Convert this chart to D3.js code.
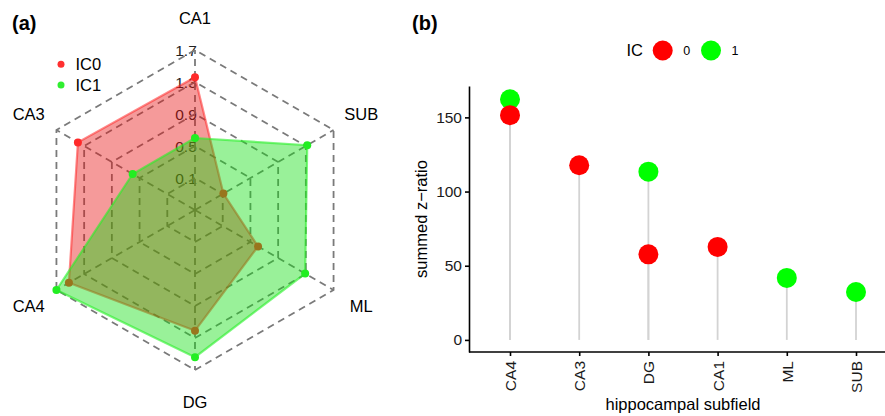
<!DOCTYPE html>
<html>
<head>
<meta charset="utf-8">
<script src="https://cdn.jsdelivr.net/npm/d3@7"></script>
<style>
    body { margin: 0; background: #fff; }
    svg  { display: block; font-family: "Liberation Sans", Arial, sans-serif; }
</style>
</head>
<body>
<svg id="chart" width="885" height="416"></svg>
<script>

// panel (a): radar values, axes counter-clockwise from the top
const radarAxes   = [ "CA1", "CA3", "CA4", "DG", "ML", "SUB" ];
const radarIC0    = [ 1.36, 1.39, 1.52, 1.21, 0.61, 0.11 ];
const radarIC1    = [ 0.60, 0.60, 1.70, 1.54, 1.29, 1.32 ];
const radarLevels = [ 0.1, 0.5, 0.9, 1.3, 1.7 ];

// panel (b): summed z-ratio per subfield
const subfields = [ "CA4", "CA3", "DG", "CA1", "ML", "SUB" ];
const sumIC0    = [ 151.5, 117.7, 57.7, 62.7, null, null ];
const sumIC1    = [ 162.2, null, 113.4, null, 41.8, 32.3 ];
const yTicks    = [ 0, 50, 100, 150 ];

const svg = d3.select( "#chart" );

// ---------------------------------------------------------------- (a)
const cx = 195, cy = 210;
const r  = d3.scaleLinear().domain( [ 0.1, 1.7 ] ).range( [ 32, 160 ] );
const angle = i => Math.PI / 2 + i * Math.PI / 3;
const pt = ( i, rad ) => [ cx + rad * Math.cos( angle( i ) ), cy - rad * Math.sin( angle( i ) ) ];

const ga = svg.append( "g" );

// axis value labels sit under the polygons
ga.selectAll( "text.lev" )
  .data( radarLevels )
  .join( "text" )
  .attr( "class", "lev" )
  .attr( "x", cx - 9 )
  .attr( "y", d => cy - r( d ) )
  .attr( "dy", "0.36em" )
  .attr( "text-anchor", "middle" )
  .attr( "font-size", 15.5 )
  .attr( "fill", "#222" )
  .text( d => d );

const grid = ga.append( "g" )
    .attr( "fill", "none" )
    .attr( "stroke", "#7a7a7a" )
    .attr( "stroke-width", 1.8 )
    .attr( "stroke-dasharray", "7,5" );

grid.selectAll( "polygon" )
    .data( radarLevels )
    .join( "polygon" )
    .attr( "points", d => radarAxes.map( ( a, i ) => pt( i, r( d ) ).join( "," ) ).join( " " ) );

grid.selectAll( "line" )
    .data( radarAxes )
    .join( "line" )
    .attr( "x1", cx ).attr( "y1", cy )
    .attr( "x2", ( d, i ) => pt( i, r( 1.7 ) )[ 0 ] )
    .attr( "y2", ( d, i ) => pt( i, r( 1.7 ) )[ 1 ] );

const series = [
    { vals: radarIC0, fill: "rgba(232,14,14,0.42)", line: "rgba(255,40,40,0.55)", dot: "#ff2a2a" },
    { vals: radarIC1, fill: "rgba(12,222,12,0.42)", line: "rgba(40,240,40,0.6)",  dot: "#22ee22" }
];

series.forEach( s =>
{
    const pts = s.vals.map( ( v, i ) => pt( i, r( v ) ) );

    ga.append( "polygon" )
      .attr( "points", pts.map( p => p.join( "," ) ).join( " " ) )
      .attr( "fill", s.fill )
      .attr( "stroke", s.line )
      .attr( "stroke-width", 2.2 );

    ga.append( "g" )
      .selectAll( "circle" )
      .data( pts )
      .join( "circle" )
      .attr( "cx", d => d[ 0 ] )
      .attr( "cy", d => d[ 1 ] )
      .attr( "r", 4 )
      .attr( "fill", s.dot );
});

ga.selectAll( "text.axl" )
  .data( radarAxes )
  .join( "text" )
  .attr( "class", "axl" )
  .attr( "x", ( d, i ) => pt( i, 192 )[ 0 ] )
  .attr( "y", ( d, i ) => pt( i, 192 )[ 1 ] )
  .attr( "dy", "0.36em" )
  .attr( "text-anchor", "middle" )
  .attr( "font-size", 16.5 )
  .text( d => d );

// legend
const legA = [ { name: "IC0", col: "#ff3030" }, { name: "IC1", col: "#30ee30" } ];
legA.forEach( ( d, i ) =>
{
    ga.append( "circle" ).attr( "cx", 61 ).attr( "cy", 64.3 + i * 20.7 ).attr( "r", 3.5 ).attr( "fill", d.col );
    ga.append( "text" ).attr( "x", 75.5 ).attr( "y", 64.3 + i * 20.7 ).attr( "dy", "0.36em" )
      .attr( "font-size", 16.5 ).text( d.name );
});

svg.append( "text" ).attr( "x", 12 ).attr( "y", 30 ).attr( "font-size", 20 )
   .attr( "font-weight", "bold" ).text( "(a)" );

// ---------------------------------------------------------------- (b)
const x = d3.scalePoint().domain( subfields ).range( [ 510, 856 ] );
const y = d3.scaleLinear().domain( [ -8.15, 171.15 ] ).range( [ 352, 86 ] );
const axisX0 = 469;

const gb = svg.append( "g" );

const rows = [];
subfields.forEach( ( s, i ) =>
{
    if ( sumIC1[ i ] != null ) rows.push( { s, v: sumIC1[ i ], ic: 1 } );
    if ( sumIC0[ i ] != null ) rows.push( { s, v: sumIC0[ i ], ic: 0 } );
});

gb.append( "g" )
  .selectAll( "line" )
  .data( rows )
  .join( "line" )
  .attr( "x1", d => x( d.s ) ).attr( "x2", d => x( d.s ) )
  .attr( "y1", y( 0 ) ).attr( "y2", d => y( d.v ) )
  .attr( "stroke", "#d3d3d3" )
  .attr( "stroke-width", 1.8 );

const icCol = [ "#ff0000", "#00ff00" ];

gb.append( "g" )
  .selectAll( "circle" )
  .data( rows )
  .join( "circle" )
  .attr( "cx", d => x( d.s ) )
  .attr( "cy", d => y( d.v ) )
  .attr( "r", 10 )
  .attr( "fill", d => icCol[ d.ic ] );

const yAxis = gb.append( "g" )
    .attr( "transform", `translate(${ axisX0 },0)` )
    .call( d3.axisLeft( y ).tickValues( yTicks ).tickSize( 4 ).tickSizeOuter( 0 ).tickPadding( 3 ) );

const xAxis = gb.append( "g" )
    .attr( "transform", `translate(0,${ y.range()[ 0 ] })` )
    .call( d3.axisBottom( x ).tickSize( 4 ).tickSizeOuter( 0 ) );

xAxis.select( ".domain" ).attr( "d", `M${ axisX0 },0H885` );

xAxis.selectAll( ".tick text" )
     .attr( "transform", "rotate(-90)" )
     .attr( "text-anchor", "end" )
     .attr( "x", -9 )
     .attr( "y", 0 )
     .attr( "dy", "0.36em" );

[ yAxis, xAxis ].forEach( a =>
{
    a.selectAll( ".domain, .tick line" ).attr( "stroke", "#000" ).attr( "stroke-width", 1.6 );
    a.selectAll( ".tick text" ).attr( "font-size", 15.5 ).attr( "fill", "#1a1a1a" )
     .attr( "font-family", "Liberation Sans, Arial, sans-serif" );
});

gb.append( "text" )
  .attr( "x", 683 ).attr( "y", 404 ).attr( "dy", "0.36em" )
  .attr( "text-anchor", "middle" ).attr( "font-size", 16.5 )
  .text( "hippocampal subfield" );

gb.append( "text" )
  .attr( "transform", `translate(421,219) rotate(-90)` )
  .attr( "dy", "0.36em" )
  .attr( "text-anchor", "middle" ).attr( "font-size", 16.5 )
  .text( "summed z\u2212ratio" );

// legend
gb.append( "text" ).attr( "x", 626.5 ).attr( "y", 50.5 ).attr( "dy", "0.36em" )
  .attr( "font-size", 16.5 ).text( "IC" );

[ 0, 1 ].forEach( k =>
{
    const lx = 662.7 + k * 48.3;
    gb.append( "circle" ).attr( "cx", lx ).attr( "cy", 50.5 ).attr( "r", 10 ).attr( "fill", icCol[ k ] );
    gb.append( "text" ).attr( "x", lx + 20.5 ).attr( "y", 50.5 ).attr( "dy", "0.36em" )
      .attr( "font-size", 12.5 ).text( k );
});

svg.append( "text" ).attr( "x", 412 ).attr( "y", 30 ).attr( "font-size", 20 )
   .attr( "font-weight", "bold" ).text( "(b)" );

</script>
</body>
</html>
